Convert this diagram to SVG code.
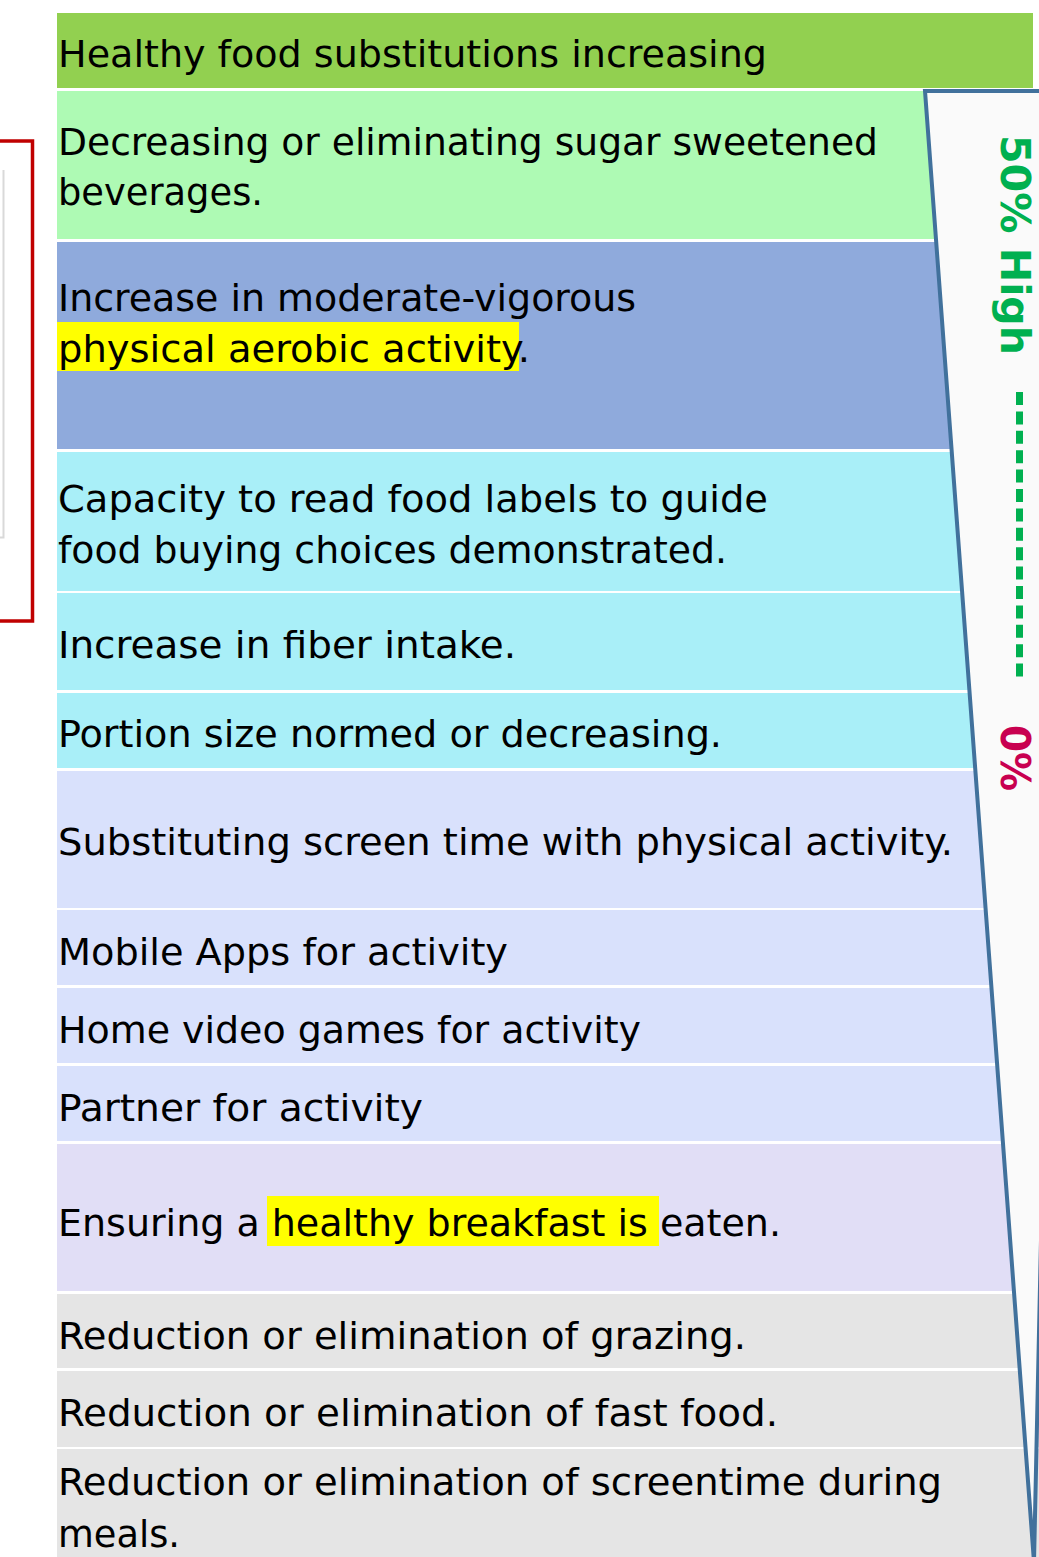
<svg xmlns="http://www.w3.org/2000/svg" width="1039" height="1557" viewBox="0 0 1039 1557">
  <style>
    .t { font-family: "DejaVu Sans Condensed", "DejaVu Sans", Tahoma, sans-serif; font-size: 38px; fill: #000; }
    .hl { fill: #FFFF00; }
    .scale { font-family: "DejaVu Sans", Verdana, sans-serif; font-weight: bold; font-size: 41px; }
    .r1 { fill: #92D050; }
    .r2 { fill: #AEFAB4; }
    .r3 { fill: #8FAADC; }
    .r4 { fill: #A9EFF8; }
    .r5 { fill: #D9E1FC; }
    .r6 { fill: #E1DEF6; }
    .r7 { fill: #E5E5E5; }
  </style>
  <rect width="1039" height="1557" fill="#FFFFFF"/>

  <!-- bracket at the left margin -->
  <g id="bracket">
    <path d="M3.5,170 V537.5 H0" fill="none" stroke="#D9D9D9" stroke-width="2"/>
    <path d="M0,141 H32.5 V621 H0" fill="none" stroke="#C00000" stroke-width="3.5"/>
  </g>

  <!-- list rows -->
  <g id="row-01">
    <rect class="r1" x="57" y="13" width="976" height="75"/>
    <text class="t" x="58" y="67" textLength="709" lengthAdjust="spacingAndGlyphs">Healthy food substitutions increasing</text>
  </g>
  <g id="row-02">
    <rect class="r2" x="57" y="91" width="982" height="148"/>
    <text class="t" x="58" y="155" textLength="820" lengthAdjust="spacingAndGlyphs">Decreasing or eliminating sugar sweetened</text>
    <text class="t" x="58" y="205" textLength="205" lengthAdjust="spacingAndGlyphs">beverages.</text>
  </g>
  <g id="row-03">
    <rect class="r3" x="57" y="242" width="982" height="207"/>
    <rect class="hl" x="57" y="322" width="462" height="49"/>
    <text class="t" x="58" y="311" textLength="578" lengthAdjust="spacingAndGlyphs">Increase in moderate-vigorous</text>
    <text class="t" x="58" y="362" textLength="472" lengthAdjust="spacingAndGlyphs">physical aerobic activity.</text>
  </g>
  <g id="row-04">
    <rect class="r4" x="57" y="452" width="982" height="139"/>
    <text class="t" x="58" y="512" textLength="710" lengthAdjust="spacingAndGlyphs">Capacity to read food labels to guide</text>
    <text class="t" x="58" y="563" textLength="669" lengthAdjust="spacingAndGlyphs">food buying choices demonstrated.</text>
  </g>
  <g id="row-05">
    <rect class="r4" x="57" y="593" width="982" height="97"/>
    <text class="t" x="58" y="658" textLength="458" lengthAdjust="spacingAndGlyphs">Increase in fiber intake.</text>
  </g>
  <g id="row-06">
    <rect class="r4" x="57" y="693" width="982" height="75"/>
    <text class="t" x="58" y="747" textLength="664" lengthAdjust="spacingAndGlyphs">Portion size normed or decreasing.</text>
  </g>
  <g id="row-07">
    <rect class="r5" x="57" y="771" width="982" height="137"/>
    <text class="t" x="58" y="855" textLength="895" lengthAdjust="spacingAndGlyphs">Substituting screen time with physical activity.</text>
  </g>
  <g id="row-08">
    <rect class="r5" x="57" y="910" width="982" height="75"/>
    <text class="t" x="58" y="965" textLength="450" lengthAdjust="spacingAndGlyphs">Mobile Apps for activity</text>
  </g>
  <g id="row-09">
    <rect class="r5" x="57" y="988" width="982" height="75"/>
    <text class="t" x="58" y="1043" textLength="583" lengthAdjust="spacingAndGlyphs">Home video games for activity</text>
  </g>
  <g id="row-10">
    <rect class="r5" x="57" y="1066" width="982" height="75"/>
    <text class="t" x="58" y="1121" textLength="365" lengthAdjust="spacingAndGlyphs">Partner for activity</text>
  </g>
  <g id="row-11">
    <rect class="r6" x="57" y="1144" width="982" height="147"/>
    <rect class="hl" x="267" y="1196" width="392" height="50"/>
    <text class="t" x="58" y="1236" textLength="723" lengthAdjust="spacingAndGlyphs">Ensuring a <tspan>healthy breakfast is </tspan>eaten.</text>
  </g>
  <g id="row-12">
    <rect class="r7" x="57" y="1294" width="982" height="74"/>
    <text class="t" x="58" y="1349" textLength="688" lengthAdjust="spacingAndGlyphs">Reduction or elimination of grazing.</text>
  </g>
  <g id="row-13">
    <rect class="r7" x="57" y="1371" width="982" height="76"/>
    <text class="t" x="58" y="1426" textLength="720" lengthAdjust="spacingAndGlyphs">Reduction or elimination of fast food.</text>
  </g>
  <g id="row-14">
    <rect class="r7" x="57" y="1449" width="982" height="108"/>
    <text class="t" x="58" y="1495" textLength="884" lengthAdjust="spacingAndGlyphs">Reduction or elimination of screentime during</text>
    <text class="t" x="58" y="1547" textLength="122" lengthAdjust="spacingAndGlyphs">meals.</text>
  </g>

  <!-- tapering scale wedge on the right -->
  <g id="wedge">
    <polygon points="925,91 1066,91 1034,1562" fill="#FAFAFA" stroke="#41719C" stroke-width="4" stroke-linejoin="miter"/>
  </g>

  <g id="connectors">
    <line x1="1019.5" y1="392" x2="1019.5" y2="680" stroke="#00B050" stroke-width="7" stroke-dasharray="13 6.4"/>
  </g>

  <g id="scale-high">
    <text class="scale" fill="#00B050" transform="translate(1001,135) rotate(90)" textLength="220" lengthAdjust="spacingAndGlyphs">50% High</text>
  </g>
  <g id="scale-low">
    <text class="scale" fill="#C80050" transform="translate(1001,725) rotate(90)" textLength="66" lengthAdjust="spacingAndGlyphs">0%</text>
  </g>
</svg>
